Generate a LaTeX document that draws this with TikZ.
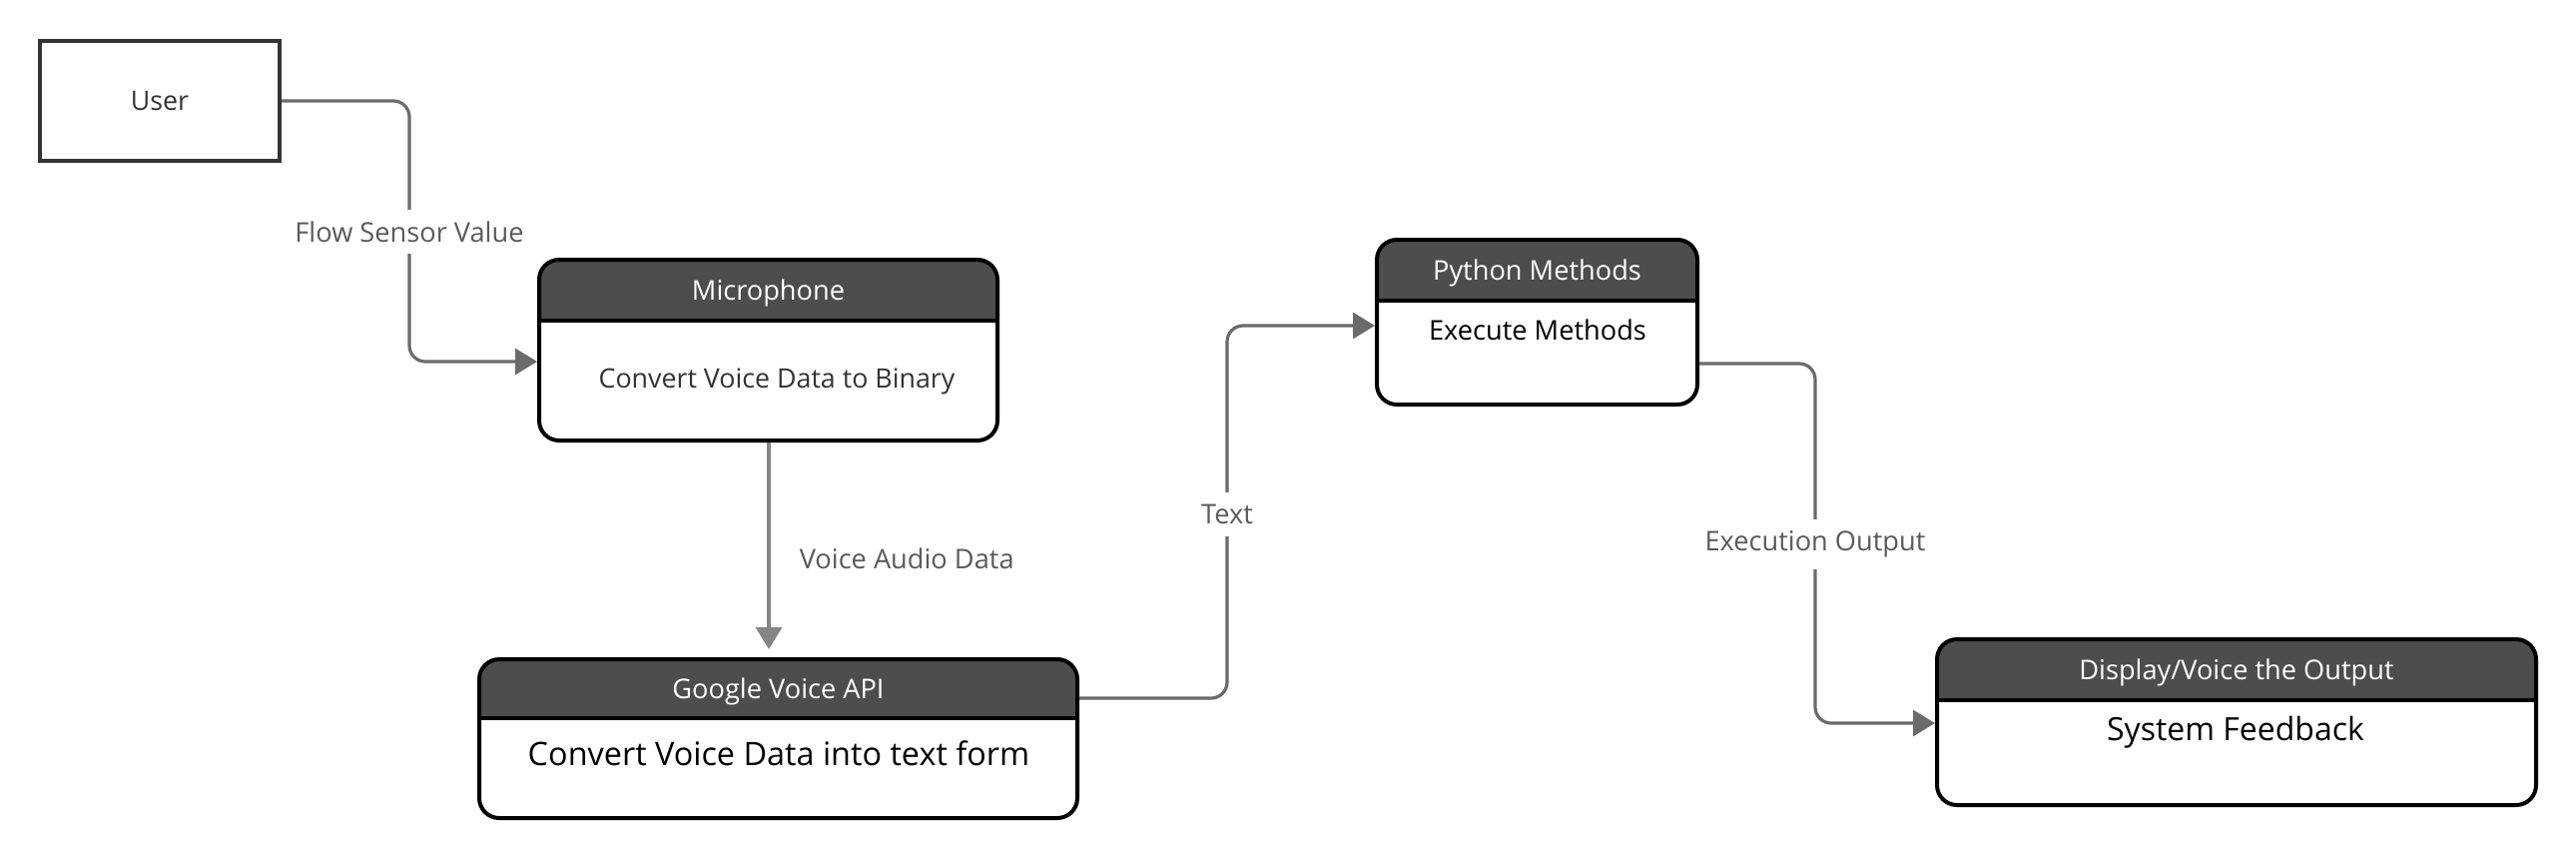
\documentclass[tikz,border=0pt]{standalone}
\usepackage{fontspec}
\setmainfont{Open Sans}
\usetikzlibrary{arrows.meta,fit,calc}
\definecolor{hdr}{HTML}{4D4D4D}
\definecolor{conn}{HTML}{6B6B6B}
\definecolor{connlight}{HTML}{858585}
\definecolor{lbl}{HTML}{5A5A5A}
\definecolor{usr}{HTML}{333333}
\newcommand\flowbox[6]{%
  \begin{scope}
    \clip (#2-10,#3-10) rectangle (#4+10,#6);
    \fill[hdr,rounded corners=5pt] (#2,#3) rectangle (#4,#5);
  \end{scope}
  \node[boxnode, fit={(#2,#3) (#4,#5)}] (#1) {};
  \draw[line width=1pt] (#2,#6) -- (#4,#6);
}
\begin{document}
\begin{tikzpicture}[x=0.25pt,y=-0.25pt,
  boxnode/.style={draw=black,line width=1pt,rounded corners=5pt,inner sep=0pt},
  hdrtext/.style={text=white,font=\fontsize{6.8pt}{8pt}\selectfont,inner sep=0pt},
  bodytext/.style={text=black,inner sep=0pt},
  conn/.style={draw=conn,line width=0.8pt,rounded corners=4pt},
  tip/.style={-{Triangle[length=5.5pt,width=6.5pt]}},
  lbl/.style={text=lbl,fill=white,inner sep=3pt,font=\fontsize{6.8pt}{8pt}\selectfont}]
\useasboundingbox[fill=white] (0,0) rectangle (2580,860);

% User
\node[draw=usr,line width=0.9pt,minimum width=60pt,minimum height=30pt,inner sep=0pt,
      font=\fontsize{6.7pt}{8pt}\selectfont,text=usr] (user) at (160,101) {User};

% Microphone
\flowbox{mic}{540}{260}{999}{441}{321}
\node[hdrtext] (micH) at (769.5,293) {Microphone};
\node[bodytext,text=usr,font=\fontsize{6.7pt}{8pt}\selectfont] (micB) at (778,382) {Convert Voice Data to Binary};

% Google Voice API
\flowbox{gva}{480}{660}{1079}{819}{719}
\node[hdrtext] (gvaH) at (779.5,692) {Google Voice API};
\node[bodytext,font=\fontsize{8.1pt}{10pt}\selectfont] (gvaB) at (780,754) {Convert Voice Data into text form};

% Python Methods
\flowbox{py}{1379}{240}{1700}{405}{301}
\node[hdrtext] (pyH) at (1539.5,273) {Python Methods};
\node[bodytext,font=\fontsize{6.8pt}{8pt}\selectfont] (pyB) at (1540,330) {Execute Methods};

% Display/Voice the Output
\flowbox{disp}{1940}{640}{2540}{806}{701}
\node[hdrtext] (dispH) at (2240,673) {Display/Voice the Output};
\node[bodytext,font=\fontsize{8pt}{10pt}\selectfont] (dispB) at (2239,733) {System Feedback};

% connectors
\draw[conn,tip] (user.east) -| (410,362) -- ($(mic.west)+(0,11.5)$);
\draw[draw=connlight,line width=0.8pt,tip] (mic.south -| 770,0) -- ($(gva.north -| 770,0)+(0,-8)$);
\draw[conn,tip] ($(gva.east)+(0,-40.5)$) -| (1229,326) -- ($(py.west)+(0,3.5)$);
\draw[conn,tip] ($(py.east)+(0,41.5)$) -| (1818,724) -- ($(disp.west)+(0,1)$);

% labels
\node[lbl] (l1) at (410,232) {Flow Sensor Value};
\node[text=lbl,inner sep=0pt,anchor=west,font=\fontsize{6.8pt}{8pt}\selectfont] (l2) at (800,559) {Voice Audio Data};
\node[lbl] (l3) at (1229,515) {Text};
\node[lbl] (l4) at (1818,545) {Execution Output};
\end{tikzpicture}
\end{document}
